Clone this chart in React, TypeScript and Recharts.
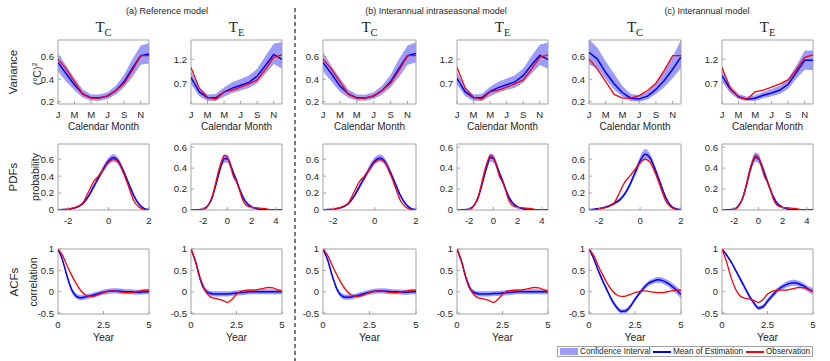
import React from 'react';
import { ComposedChart, Area, Line, XAxis, YAxis, ReferenceArea } from 'recharts';

// ---- data ----
const MONTHS = [1, 2, 3, 4, 5, 6, 7, 8, 9, 10, 11, 12];
const MONTH_TICKS = [1, 3, 5, 7, 9, 11];
const MONTH_LETTERS = ['J', 'F', 'M', 'A', 'M', 'J', 'J', 'A', 'S', 'O', 'N', 'D'];

const OBS_TC_VAR = [0.58, 0.49, 0.38, 0.265, 0.232, 0.232, 0.255, 0.3, 0.365, 0.48, 0.61, 0.61];
const OBS_TE_VAR = [1.03, 0.6, 0.41, 0.37, 0.52, 0.56, 0.62, 0.69, 0.77, 0.99, 1.24, 1.29];

const A_TC_VAR_MEAN = [0.55, 0.45, 0.35, 0.27, 0.235, 0.235, 0.25, 0.3, 0.38, 0.5, 0.61, 0.625];
const A_TC_VAR_LO = [0.47, 0.38, 0.3, 0.235, 0.21, 0.21, 0.225, 0.265, 0.33, 0.42, 0.53, 0.54];
const A_TC_VAR_HI = [0.63, 0.52, 0.41, 0.31, 0.265, 0.265, 0.285, 0.345, 0.44, 0.58, 0.7, 0.72];
const B_TC_VAR_MEAN = [0.55, 0.45, 0.34, 0.27, 0.235, 0.233, 0.25, 0.3, 0.38, 0.5, 0.61, 0.63];
const B_TC_VAR_LO = [0.47, 0.38, 0.29, 0.235, 0.21, 0.21, 0.225, 0.265, 0.33, 0.42, 0.53, 0.55];
const B_TC_VAR_HI = [0.64, 0.52, 0.41, 0.31, 0.265, 0.262, 0.285, 0.345, 0.44, 0.58, 0.7, 0.73];
const C_TC_VAR_MEAN = [0.64, 0.58, 0.46, 0.36, 0.28, 0.232, 0.225, 0.25, 0.31, 0.39, 0.49, 0.6];
const C_TC_VAR_LO = [0.53, 0.5, 0.4, 0.31, 0.245, 0.205, 0.2, 0.22, 0.27, 0.33, 0.41, 0.5];
const C_TC_VAR_HI = [0.76, 0.68, 0.56, 0.45, 0.34, 0.27, 0.26, 0.29, 0.37, 0.47, 0.6, 0.75];

const A_TE_VAR_MEAN = [0.82, 0.52, 0.4, 0.4, 0.52, 0.6, 0.66, 0.72, 0.85, 1.07, 1.3, 1.2];
const A_TE_VAR_LO = [0.68, 0.43, 0.33, 0.33, 0.42, 0.5, 0.55, 0.6, 0.7, 0.9, 1.1, 1.0];
const A_TE_VAR_HI = [0.95, 0.6, 0.47, 0.48, 0.62, 0.72, 0.79, 0.86, 1.0, 1.27, 1.52, 1.56];
const B_TE_VAR_MEAN = [0.8, 0.52, 0.4, 0.4, 0.53, 0.61, 0.67, 0.73, 0.86, 1.08, 1.28, 1.2];
const B_TE_VAR_LO = [0.67, 0.43, 0.33, 0.33, 0.43, 0.51, 0.56, 0.61, 0.71, 0.9, 1.08, 1.0];
const B_TE_VAR_HI = [0.94, 0.6, 0.47, 0.48, 0.63, 0.73, 0.8, 0.87, 1.01, 1.27, 1.5, 1.55];
const C_TE_VAR_MEAN = [0.86, 0.58, 0.42, 0.37, 0.39, 0.45, 0.5, 0.56, 0.68, 0.93, 1.18, 1.18];
const C_TE_VAR_LO = [0.74, 0.5, 0.37, 0.33, 0.34, 0.39, 0.43, 0.48, 0.58, 0.8, 0.98, 0.97];
const C_TE_VAR_HI = [0.98, 0.66, 0.48, 0.42, 0.45, 0.52, 0.58, 0.65, 0.8, 1.07, 1.38, 1.38];

const PDF_TC_X = [-2.5, -2.25, -2, -1.75, -1.5, -1.25, -1, -0.75, -0.5, -0.25, 0, 0.25, 0.5, 0.75, 1, 1.25, 1.5, 1.75, 2];
const OBS_TC_PDF = [0.002, 0.005, 0.01, 0.025, 0.045, 0.09, 0.21, 0.33, 0.4, 0.48, 0.56, 0.6, 0.56, 0.43, 0.27, 0.11, 0.035, 0.008, 0.002];
const A_TC_PDF_MEAN = [0.002, 0.005, 0.01, 0.02, 0.04, 0.08, 0.16, 0.27, 0.38, 0.49, 0.58, 0.62, 0.57, 0.45, 0.31, 0.17, 0.07, 0.02, 0.005];
const A_TC_PDF_LO = [0, 0.003, 0.007, 0.015, 0.03, 0.065, 0.14, 0.24, 0.35, 0.45, 0.54, 0.57, 0.53, 0.41, 0.28, 0.15, 0.055, 0.015, 0.003];
const A_TC_PDF_HI = [0.004, 0.008, 0.014, 0.027, 0.05, 0.095, 0.18, 0.3, 0.41, 0.53, 0.62, 0.66, 0.61, 0.49, 0.34, 0.19, 0.085, 0.03, 0.008];
const B_TC_PDF_MEAN = [0.002, 0.005, 0.01, 0.02, 0.04, 0.08, 0.16, 0.27, 0.38, 0.49, 0.58, 0.615, 0.57, 0.45, 0.31, 0.17, 0.07, 0.02, 0.005];
const B_TC_PDF_LO = [0, 0.003, 0.007, 0.015, 0.03, 0.065, 0.14, 0.24, 0.35, 0.45, 0.54, 0.57, 0.53, 0.41, 0.28, 0.15, 0.055, 0.015, 0.003];
const B_TC_PDF_HI = [0.004, 0.008, 0.014, 0.027, 0.05, 0.095, 0.18, 0.3, 0.41, 0.53, 0.62, 0.655, 0.61, 0.49, 0.34, 0.19, 0.085, 0.03, 0.008];
const C_TC_PDF_MEAN = [0.005, 0.01, 0.018, 0.03, 0.05, 0.08, 0.12, 0.19, 0.3, 0.44, 0.58, 0.66, 0.61, 0.47, 0.31, 0.15, 0.05, 0.015, 0.004];
const C_TC_PDF_LO = [0.002, 0.006, 0.012, 0.022, 0.04, 0.065, 0.1, 0.165, 0.27, 0.4, 0.53, 0.61, 0.57, 0.43, 0.28, 0.13, 0.04, 0.01, 0.002];
const C_TC_PDF_HI = [0.008, 0.014, 0.024, 0.038, 0.06, 0.095, 0.14, 0.215, 0.33, 0.48, 0.63, 0.72, 0.66, 0.51, 0.34, 0.17, 0.06, 0.02, 0.006];

const PDF_TE_X = [-3, -2.5, -2, -1.75, -1.5, -1.25, -1, -0.75, -0.5, -0.25, 0, 0.25, 0.5, 0.75, 1, 1.25, 1.5, 2, 2.5, 3, 3.5, 4, 4.5];
const OBS_TE_PDF = [0.001, 0.002, 0.006, 0.02, 0.06, 0.13, 0.24, 0.36, 0.46, 0.52, 0.5, 0.42, 0.32, 0.27, 0.19, 0.1, 0.05, 0.025, 0.02, 0.015, 0.004, 0.001, 0];
const A_TE_PDF_MEAN = [0.001, 0.003, 0.01, 0.025, 0.06, 0.12, 0.22, 0.33, 0.43, 0.49, 0.49, 0.43, 0.35, 0.28, 0.2, 0.13, 0.08, 0.03, 0.01, 0.004, 0.001, 0, 0];
const A_TE_PDF_LO = [0, 0.001, 0.006, 0.018, 0.05, 0.1, 0.2, 0.3, 0.4, 0.45, 0.45, 0.4, 0.32, 0.25, 0.18, 0.11, 0.065, 0.022, 0.006, 0.002, 0, 0, 0];
const A_TE_PDF_HI = [0.002, 0.005, 0.014, 0.032, 0.07, 0.14, 0.25, 0.36, 0.46, 0.53, 0.53, 0.47, 0.38, 0.31, 0.22, 0.15, 0.095, 0.04, 0.015, 0.006, 0.002, 0.001, 0];
const B_TE_PDF_MEAN = [0.001, 0.003, 0.01, 0.025, 0.06, 0.12, 0.22, 0.33, 0.43, 0.5, 0.49, 0.43, 0.35, 0.28, 0.2, 0.13, 0.08, 0.03, 0.01, 0.004, 0.001, 0, 0];
const B_TE_PDF_LO = [0, 0.001, 0.006, 0.018, 0.05, 0.1, 0.2, 0.3, 0.4, 0.46, 0.45, 0.4, 0.32, 0.25, 0.18, 0.11, 0.065, 0.022, 0.006, 0.002, 0, 0, 0];
const B_TE_PDF_HI = [0.002, 0.005, 0.014, 0.032, 0.07, 0.14, 0.25, 0.36, 0.46, 0.54, 0.53, 0.47, 0.38, 0.31, 0.22, 0.15, 0.095, 0.04, 0.015, 0.006, 0.002, 0.001, 0];
const C_TE_PDF_MEAN = [0.001, 0.003, 0.01, 0.026, 0.065, 0.13, 0.23, 0.35, 0.45, 0.5, 0.49, 0.43, 0.35, 0.27, 0.19, 0.12, 0.07, 0.025, 0.008, 0.003, 0.001, 0, 0];
const C_TE_PDF_LO = [0, 0.001, 0.006, 0.019, 0.055, 0.11, 0.2, 0.31, 0.41, 0.46, 0.45, 0.39, 0.31, 0.24, 0.17, 0.1, 0.055, 0.018, 0.005, 0.001, 0, 0, 0];
const C_TE_PDF_HI = [0.002, 0.005, 0.014, 0.033, 0.075, 0.15, 0.26, 0.39, 0.49, 0.55, 0.54, 0.47, 0.39, 0.3, 0.21, 0.14, 0.085, 0.033, 0.012, 0.005, 0.002, 0.001, 0];

const ACF_X = [0, 0.25, 0.5, 0.75, 1, 1.25, 1.5, 1.75, 2, 2.25, 2.5, 2.75, 3, 3.25, 3.5, 3.75, 4, 4.25, 4.5, 4.75, 5];
const OBS_TC_ACF = [1, 0.85, 0.61, 0.39, 0.19, 0.03, -0.07, -0.11, -0.1, -0.06, -0.02, 0.01, 0.02, 0.01, -0.01, -0.02, -0.02, 0, 0.02, 0.04, 0.04];
const OBS_TE_ACF = [1, 0.7, 0.33, 0.06, -0.1, -0.15, -0.17, -0.2, -0.25, -0.18, -0.06, 0.01, 0.03, 0.04, 0.04, 0.06, 0.08, 0.1, 0.09, 0.05, 0.01];

const A_TC_ACF_MEAN = [1, 0.74, 0.36, 0.05, -0.1, -0.14, -0.12, -0.1, -0.07, -0.04, -0.01, 0.01, 0.02, 0.02, 0.01, 0, 0, -0.01, -0.01, 0, 0];
const A_TC_ACF_LO = [1, 0.7, 0.31, -0.01, -0.16, -0.2, -0.18, -0.16, -0.13, -0.1, -0.07, -0.05, -0.04, -0.04, -0.05, -0.06, -0.06, -0.07, -0.07, -0.06, -0.06];
const A_TC_ACF_HI = [1, 0.78, 0.41, 0.11, -0.04, -0.08, -0.06, -0.04, -0.01, 0.02, 0.05, 0.07, 0.08, 0.08, 0.07, 0.06, 0.06, 0.05, 0.05, 0.06, 0.06];
const B_TC_ACF_MEAN = [1, 0.74, 0.37, 0.06, -0.09, -0.13, -0.12, -0.1, -0.07, -0.04, -0.01, 0.01, 0.02, 0.02, 0.01, 0, 0, -0.01, -0.01, 0, 0];
const B_TC_ACF_LO = [1, 0.7, 0.32, 0, -0.15, -0.19, -0.18, -0.16, -0.13, -0.1, -0.07, -0.05, -0.04, -0.04, -0.05, -0.06, -0.06, -0.07, -0.07, -0.06, -0.06];
const B_TC_ACF_HI = [1, 0.78, 0.42, 0.12, -0.03, -0.07, -0.06, -0.04, -0.01, 0.02, 0.05, 0.07, 0.08, 0.08, 0.07, 0.06, 0.06, 0.05, 0.05, 0.06, 0.06];
const C_TC_ACF_MEAN = [1, 0.78, 0.5, 0.25, 0.02, -0.2, -0.36, -0.46, -0.45, -0.34, -0.18, -0.03, 0.1, 0.2, 0.25, 0.28, 0.26, 0.21, 0.13, 0.04, -0.06];
const C_TC_ACF_LO = [1, 0.76, 0.47, 0.21, -0.03, -0.25, -0.41, -0.51, -0.5, -0.39, -0.23, -0.08, 0.04, 0.14, 0.19, 0.21, 0.19, 0.14, 0.05, -0.05, -0.16];
const C_TC_ACF_HI = [1, 0.8, 0.53, 0.29, 0.07, -0.15, -0.31, -0.41, -0.39, -0.29, -0.13, 0.02, 0.16, 0.26, 0.31, 0.35, 0.33, 0.28, 0.21, 0.13, 0.04];

const A_TE_ACF_MEAN = [1, 0.7, 0.3, 0.05, -0.03, -0.05, -0.05, -0.05, -0.05, -0.04, -0.03, -0.02, -0.01, 0, 0, 0, 0, 0, 0, 0, 0];
const A_TE_ACF_LO = [1, 0.66, 0.25, -0.01, -0.09, -0.11, -0.11, -0.11, -0.11, -0.1, -0.09, -0.08, -0.07, -0.06, -0.06, -0.06, -0.06, -0.06, -0.06, -0.06, -0.06];
const A_TE_ACF_HI = [1, 0.74, 0.35, 0.11, 0.03, 0.01, 0.01, 0.01, 0.01, 0.02, 0.03, 0.04, 0.05, 0.06, 0.06, 0.06, 0.06, 0.06, 0.06, 0.06, 0.06];
const B_TE_ACF_MEAN = [1, 0.71, 0.31, 0.05, -0.03, -0.05, -0.05, -0.05, -0.04, -0.04, -0.03, -0.02, -0.01, 0, 0, 0, 0, 0, 0, 0, 0];
const B_TE_ACF_LO = [1, 0.67, 0.26, -0.01, -0.09, -0.11, -0.11, -0.11, -0.1, -0.1, -0.09, -0.08, -0.07, -0.06, -0.06, -0.06, -0.06, -0.06, -0.06, -0.06, -0.06];
const B_TE_ACF_HI = [1, 0.75, 0.36, 0.11, 0.03, 0.01, 0.01, 0.01, 0.02, 0.02, 0.03, 0.04, 0.05, 0.06, 0.06, 0.06, 0.06, 0.06, 0.06, 0.06, 0.06];
const C_TE_ACF_MEAN = [1, 0.86, 0.7, 0.5, 0.3, 0.1, -0.1, -0.26, -0.38, -0.35, -0.22, -0.1, 0.02, 0.1, 0.16, 0.2, 0.21, 0.18, 0.13, 0.06, 0.01];
const C_TE_ACF_LO = [1, 0.84, 0.67, 0.46, 0.25, 0.05, -0.15, -0.31, -0.43, -0.4, -0.28, -0.16, -0.04, 0.04, 0.09, 0.13, 0.14, 0.11, 0.06, -0.01, -0.07];
const C_TE_ACF_HI = [1, 0.88, 0.73, 0.54, 0.35, 0.15, -0.05, -0.21, -0.33, -0.3, -0.16, -0.04, 0.08, 0.16, 0.23, 0.27, 0.28, 0.25, 0.2, 0.13, 0.09];

// ---- styling ----
const BLUE = '#0000ff';
const RED = '#ff0000';
const BAND = '#9d9df9';
const BOX = '#a3a3a3';
const TXT = '#262626';
const SANS = '"Liberation Sans", Arial, sans-serif';
const SERIF = '"Liberation Serif", "Times New Roman", serif';

const COL_LEFT = [58, 191, 323, 457, 589, 722];
const COL_W = [91, 91, 93, 91, 92, 91];
const ROW_TOP = [40, 144, 249];
const ROW_H = [64, 66, 65];

const YW = 34;
const RM = 8;
const TM = 8;
const XH = 18;

type PanelProps = {
  col: number;
  row: number;
  x: number[];
  lo: number[];
  hi: number[];
  mean: number[];
  obs: number[];
  xDomain: [number, number];
  yDomain: [number, number];
  xTicks: number[];
  yTicks: number[];
  xFmt?: (v: number) => string;
  curve: 'linear' | 'monotone';
};

const tickStyle = { fill: TXT, fontSize: 9.5, fontFamily: SANS };

const Panel = (p: PanelProps) => {
  const w = COL_W[p.col];
  const h = ROW_H[p.row];
  const data = p.x.map((x, i) => ({ x, band: [p.lo[i], p.hi[i]], mean: p.mean[i], obs: p.obs[i] }));
  return (
    <div style={{ position: 'absolute', left: COL_LEFT[p.col] - YW, top: ROW_TOP[p.row] - TM }}>
      <ComposedChart width={YW + w + RM} height={TM + h + XH} data={data} margin={{ top: TM, right: RM, bottom: 0, left: 0 }}>
        <XAxis dataKey="x" type="number" domain={p.xDomain} ticks={p.xTicks} tickFormatter={p.xFmt} interval={0}
          allowDataOverflow height={XH} axisLine={false} tickSize={-3} tickMargin={10} tickLine={{ stroke: BOX }} tick={tickStyle} />
        <YAxis type="number" domain={p.yDomain} ticks={p.yTicks} interval={0}
          allowDataOverflow width={YW} axisLine={false} tickSize={-3} tickMargin={7} tickLine={{ stroke: BOX }} tick={tickStyle} />
        <Area dataKey="band" type={p.curve} stroke="none" fill={BAND} fillOpacity={1} isAnimationActive={false} />
        <Line dataKey="mean" type={p.curve} stroke={BLUE} strokeWidth={1.5} dot={false} isAnimationActive={false} />
        <Line dataKey="obs" type={p.curve} stroke={RED} strokeWidth={1.3} dot={false} isAnimationActive={false} />
        <ReferenceArea x1={p.xDomain[0]} x2={p.xDomain[1]} y1={p.yDomain[0]} y2={p.yDomain[1]}
          fill="none" fillOpacity={0} stroke={BOX} strokeWidth={1} ifOverflow="visible" />
      </ComposedChart>
    </div>
  );
};

const monthFmt = (v: number) => MONTH_LETTERS[v - 1];

const TC_VAR = { xDomain: [1, 12] as [number, number], yDomain: [0.18, 0.75] as [number, number], xTicks: MONTH_TICKS, yTicks: [0.2, 0.4, 0.6], xFmt: monthFmt, curve: 'linear' as const };
const TE_VAR = { xDomain: [1, 12] as [number, number], yDomain: [0.27, 1.6] as [number, number], xTicks: MONTH_TICKS, yTicks: [0.7, 1.2], xFmt: monthFmt, curve: 'linear' as const };
const TC_PDF = { xDomain: [-2.5, 2] as [number, number], yDomain: [0, 0.78] as [number, number], xTicks: [-2, 0, 2], yTicks: [0, 0.2, 0.4, 0.6], curve: 'monotone' as const };
const TE_PDF = { xDomain: [-3, 4.5] as [number, number], yDomain: [0, 0.63] as [number, number], xTicks: [-2, 0, 2, 4], yTicks: [0, 0.2, 0.4, 0.6], curve: 'monotone' as const };
const ACF = { xDomain: [0, 5] as [number, number], yDomain: [-0.52, 1] as [number, number], xTicks: [0, 2.5, 5], yTicks: [-0.5, 0, 0.5, 1], curve: 'monotone' as const };

const Label = ({ x, y, text, size, rotate, family }: { x: number; y: number; text: React.ReactNode; size: number; rotate?: boolean; family?: string }) => (
  <div style={{
    position: 'absolute', left: x, top: y, whiteSpace: 'nowrap', fontSize: size, lineHeight: 1, color: TXT,
    fontFamily: family || SANS, transform: `translate(-50%, -50%)${rotate ? ' rotate(-90deg)' : ''}`,
  }}>{text}</div>
);

const Title = ({ col, sub }: { col: number; sub: string }) => (
  <div style={{ position: 'absolute', left: COL_LEFT[col] + COL_W[col] / 2 - 30, top: 20, width: 60, textAlign: 'center', fontFamily: SERIF, color: TXT, fontSize: 15, lineHeight: '15px' }}>
    T<span style={{ fontSize: 10.5, position: 'relative', top: 4 }}>{sub}</span>
  </div>
);

export default function App() {
  const cx = (c: number) => COL_LEFT[c] + COL_W[c] / 2;
  return (
    <div style={{ position: 'absolute', left: 0, top: 0, width: 830, height: 361, background: '#fff', overflow: 'hidden', fontFamily: SANS }}>
      <Label x={167} y={11} text="(a) Reference model" size={9} />
      <Label x={436} y={11} text="(b) Interannual intraseasonal model" size={9} />
      <Label x={707} y={11} text="(c) Interannual model" size={9} />

      {[0, 2, 4].map((c) => <Title key={'tc' + c} col={c} sub="C" />)}
      {[1, 3, 5].map((c) => <Title key={'te' + c} col={c} sub="E" />)}

      <Label x={14} y={72} text="Variance" size={11.5} rotate />
      <Label x={36} y={74} text={<span>(°C)<sup style={{ fontSize: 7 }}>2</sup></span>} size={10.5} rotate />
      <Label x={14} y={177} text="PDFs" size={11.5} rotate />
      <Label x={35} y={177} text="probability" size={10.5} rotate />
      <Label x={15} y={282} text="ACFs" size={11.5} rotate />
      <Label x={33} y={282} text="correlation" size={10.5} rotate />

      {[0, 1, 2, 3, 4, 5].map((c) => <Label key={'cm' + c} x={cx(c)} y={127} text="Calendar Month" size={10} />)}
      {[0, 1, 2, 3, 4, 5].map((c) => <Label key={'yr' + c} x={cx(c)} y={337} text="Year" size={10.5} />)}

      <Panel col={0} row={0} x={MONTHS} lo={A_TC_VAR_LO} hi={A_TC_VAR_HI} mean={A_TC_VAR_MEAN} obs={OBS_TC_VAR} {...TC_VAR} />
      <Panel col={1} row={0} x={MONTHS} lo={A_TE_VAR_LO} hi={A_TE_VAR_HI} mean={A_TE_VAR_MEAN} obs={OBS_TE_VAR} {...TE_VAR} />
      <Panel col={2} row={0} x={MONTHS} lo={B_TC_VAR_LO} hi={B_TC_VAR_HI} mean={B_TC_VAR_MEAN} obs={OBS_TC_VAR} {...TC_VAR} />
      <Panel col={3} row={0} x={MONTHS} lo={B_TE_VAR_LO} hi={B_TE_VAR_HI} mean={B_TE_VAR_MEAN} obs={OBS_TE_VAR} {...TE_VAR} />
      <Panel col={4} row={0} x={MONTHS} lo={C_TC_VAR_LO} hi={C_TC_VAR_HI} mean={C_TC_VAR_MEAN} obs={OBS_TC_VAR} {...TC_VAR} />
      <Panel col={5} row={0} x={MONTHS} lo={C_TE_VAR_LO} hi={C_TE_VAR_HI} mean={C_TE_VAR_MEAN} obs={OBS_TE_VAR} {...TE_VAR} />

      <Panel col={0} row={1} x={PDF_TC_X} lo={A_TC_PDF_LO} hi={A_TC_PDF_HI} mean={A_TC_PDF_MEAN} obs={OBS_TC_PDF} {...TC_PDF} />
      <Panel col={1} row={1} x={PDF_TE_X} lo={A_TE_PDF_LO} hi={A_TE_PDF_HI} mean={A_TE_PDF_MEAN} obs={OBS_TE_PDF} {...TE_PDF} />
      <Panel col={2} row={1} x={PDF_TC_X} lo={B_TC_PDF_LO} hi={B_TC_PDF_HI} mean={B_TC_PDF_MEAN} obs={OBS_TC_PDF} {...TC_PDF} />
      <Panel col={3} row={1} x={PDF_TE_X} lo={B_TE_PDF_LO} hi={B_TE_PDF_HI} mean={B_TE_PDF_MEAN} obs={OBS_TE_PDF} {...TE_PDF} />
      <Panel col={4} row={1} x={PDF_TC_X} lo={C_TC_PDF_LO} hi={C_TC_PDF_HI} mean={C_TC_PDF_MEAN} obs={OBS_TC_PDF} {...TC_PDF} />
      <Panel col={5} row={1} x={PDF_TE_X} lo={C_TE_PDF_LO} hi={C_TE_PDF_HI} mean={C_TE_PDF_MEAN} obs={OBS_TE_PDF} {...TE_PDF} />

      <Panel col={0} row={2} x={ACF_X} lo={A_TC_ACF_LO} hi={A_TC_ACF_HI} mean={A_TC_ACF_MEAN} obs={OBS_TC_ACF} {...ACF} />
      <Panel col={1} row={2} x={ACF_X} lo={A_TE_ACF_LO} hi={A_TE_ACF_HI} mean={A_TE_ACF_MEAN} obs={OBS_TE_ACF} {...ACF} />
      <Panel col={2} row={2} x={ACF_X} lo={B_TC_ACF_LO} hi={B_TC_ACF_HI} mean={B_TC_ACF_MEAN} obs={OBS_TC_ACF} {...ACF} />
      <Panel col={3} row={2} x={ACF_X} lo={B_TE_ACF_LO} hi={B_TE_ACF_HI} mean={B_TE_ACF_MEAN} obs={OBS_TE_ACF} {...ACF} />
      <Panel col={4} row={2} x={ACF_X} lo={C_TC_ACF_LO} hi={C_TC_ACF_HI} mean={C_TC_ACF_MEAN} obs={OBS_TC_ACF} {...ACF} />
      <Panel col={5} row={2} x={ACF_X} lo={C_TE_ACF_LO} hi={C_TE_ACF_HI} mean={C_TE_ACF_MEAN} obs={OBS_TE_ACF} {...ACF} />

      {/* dashed separator between (a) and (b) */}
      <svg width={6} height={361} style={{ position: 'absolute', left: 292, top: 0 }}>
        <line x1={3} y1={8} x2={3} y2={361} stroke="#777" strokeWidth={2} strokeDasharray="4 3" />
      </svg>

      {/* legend */}
      <div style={{ position: 'absolute', left: 557, top: 346, width: 254, height: 9, border: `1px solid ${BOX}`, background: '#fff', fontSize: 8.2, color: TXT, lineHeight: '9px' }}>
        <div style={{ position: 'absolute', left: 2, top: 1, width: 18, height: 7, background: BAND }} />
        <span style={{ position: 'absolute', left: 22, top: 0 }}>Confidence Interval</span>
        <div style={{ position: 'absolute', left: 95, top: 4, width: 18, height: 2, background: BLUE }} />
        <span style={{ position: 'absolute', left: 115, top: 0 }}>Mean of Estimation</span>
        <div style={{ position: 'absolute', left: 188, top: 4, width: 18, height: 2, background: RED }} />
        <span style={{ position: 'absolute', left: 208, top: 0 }}>Observation</span>
      </div>
    </div>
  );
}
